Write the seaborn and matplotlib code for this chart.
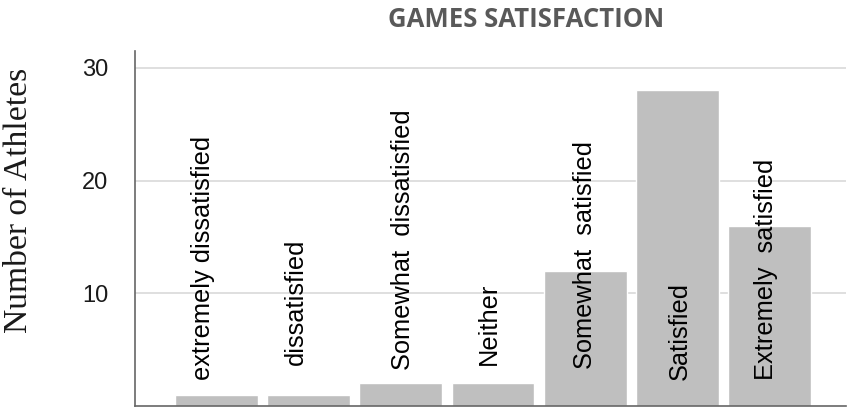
import matplotlib
matplotlib.use("Agg")
import matplotlib.pyplot as plt
import seaborn as sns
import pandas as pd

# data
categories = ["extremely dissatisfied", "dissatisfied", "Somewhat  dissatisfied", "Neither",
              "Somewhat  satisfied", "Satisfied", "Extremely  satisfied"]
athletes = [1, 1, 2, 2, 12, 28, 16]
y_ticks = [10, 20, 30]

# where each rotated label sits (offset from bar centre, bottom of text; data units)
label_shift = [-0.14, -0.14, 0.02, -0.04, 0.0, 0.03, -0.04]
label_base = [2.3, 3.6, 3.2, 3.6, 3.3, 2.3, 2.3]

sns.set_theme(style="white")
plt.rcParams["font.family"] = ["Liberation Sans", "DejaVu Sans"]

df = pd.DataFrame({"category": categories, "athletes": athletes})

fig = plt.figure(figsize=(8.47, 4.07), dpi=100)
ax = fig.add_axes([0.159, 0.0025, 0.84, 0.8725])

sns.barplot(data=df, x="category", y="athletes", color="#bfbfbf", saturation=1,
            width=0.9, ax=ax, zorder=2)

for i, lab in enumerate(categories):
    ax.text(i + label_shift[i], label_base[i], lab, rotation=90, ha="center",
            va="bottom", fontsize=18.3, color="black", zorder=3)

ax.set_xlim(-0.886, 6.83)
ax.set_ylim(0, 31.5)
ax.set_yticks(y_ticks)
ax.set_xticks([])
ax.set_xlabel("")
ax.tick_params(axis="y", labelsize=17, length=0, pad=19, labelcolor="#1a1a1a")
ax.grid(axis="y", color="#d9d9d9", linewidth=1.2, zorder=0)
ax.set_axisbelow(True)

for s in ["top", "right"]:
    ax.spines[s].set_visible(False)
for s in ["left", "bottom"]:
    ax.spines[s].set_color("#666666")
    ax.spines[s].set_linewidth(1.2)

ax.set_ylabel("Number of Athletes", family=["Liberation Serif", "DejaVu Serif"],
              fontsize=24.2, color="#1a1a1a")
ax.yaxis.set_label_coords(-0.141, 0.578)

fig.text(0.621, 0.953, "GAMES SATISFACTION", ha="center", va="center",
         fontsize=18.5, fontweight="bold", color="#595959",
         family=["Open Sans", "DejaVu Sans"])

fig.savefig("out.png", dpi=100)
